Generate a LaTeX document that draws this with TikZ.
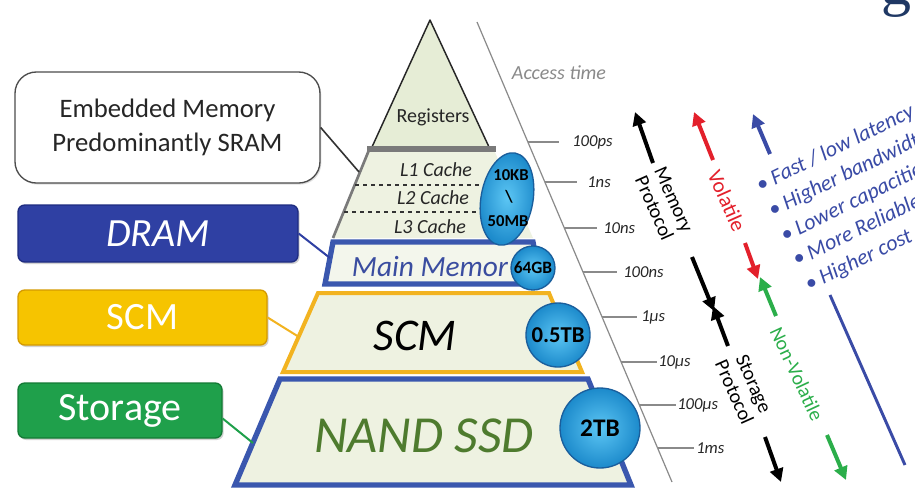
\documentclass[tikz,border=0pt]{standalone}
\usepackage{fontspec}
\setmainfont{Carlito}
\newfontfamily\titleserif{Liberation Serif}
\usetikzlibrary{arrows.meta,shapes.geometric,shadows,calc}

\definecolor{bandfill}{HTML}{EEF2E1}
\definecolor{regfill}{HTML}{E6EDD6}
\definecolor{mmfill}{HTML}{F3F6EC}
\definecolor{cachegray}{HTML}{7A7A7A}
\definecolor{pyblue}{HTML}{3A57AE}
\definecolor{pygold}{HTML}{F2B320}
\definecolor{dramblue}{HTML}{2F40A3}
\definecolor{dramborder}{HTML}{1E2C80}
\definecolor{scmgold}{HTML}{F6C400}
\definecolor{scmborder}{HTML}{D49A00}
\definecolor{storgreen}{HTML}{1FA04B}
\definecolor{storborder}{HTML}{137A35}
\definecolor{nandgreen}{HTML}{4E7B2E}
\definecolor{mmtext}{HTML}{3A4DA0}
\definecolor{axisgray}{HTML}{8A8A8A}
\definecolor{volred}{HTML}{E3202B}
\definecolor{nvgreen}{HTML}{2BAE4A}
\definecolor{listblue}{HTML}{3A4BA6}
\definecolor{balllight}{HTML}{5CC6F4}
\definecolor{balldark}{HTML}{1C8ACB}
\definecolor{ballborder}{HTML}{1A5E9C}
\definecolor{titlenavy}{HTML}{1F3864}

\tikzset{
  leftbox/.style={rounded corners=5pt, line width=1pt, text=white, align=center,
    drop shadow={shadow xshift=1.2pt, shadow yshift=-1.5pt, opacity=0.35}},
  ball/.style={circle, draw=ballborder, line width=1pt, inner color=balllight, outer color=balldark,
    font=\bfseries, text=black, inner sep=0pt},
  tickline/.style={axisgray, line width=0.9pt},
  ticklabel/.style={anchor=west, inner sep=0pt, font=\fontsize{12.5}{14}\selectfont\itshape, text=black!85},
  fatarrow/.style={line width=3pt, -{Triangle[length=10pt,width=10pt]}},
  rottext/.style={align=center, inner sep=0pt, font=\fontsize{15}{16}\selectfont}
}

\begin{document}
\begin{tikzpicture}[x=0.75pt,y=-0.75pt]
\useasboundingbox (0,0) rectangle (915,487);
\fill[white] (0,0) rectangle (915,487);

% cut-off title glyph
\node[anchor=base, inner sep=0pt, text=titlenavy, font=\titleserif\fontsize{45}{45}\selectfont] (titleg) at (896,4) {g};

% ---------------- pyramid ----------------
% registers
\draw[fill=regfill, draw=black!85, line width=1.1pt, line join=round] (430,20) -- (489,147) -- (372,147) -- cycle;
\node[font=\fontsize{15}{18}\selectfont, text=black!85] (reg) at (433,117) {Registers};

% cache band
\fill[bandfill] (369,150) -- (494,150) -- (533,238) -- (333,238) -- cycle;
\draw[cachegray, line width=2pt] (369,150) -- (333,238);
\draw[cachegray, line width=4pt] (367,149) -- (496,149);
\draw[black!80, dashed, line width=0.9pt] (355,185) -- (492,185);
\draw[black!80, dashed, line width=0.9pt] (344,212) -- (500,212);
\node[font=\fontsize{15}{18}\selectfont\itshape, text=black!85] (l1) at (436,170) {L1 Cache};
\node[font=\fontsize{15}{18}\selectfont\itshape, text=black!85] (l2) at (433,198) {L2 Cache};
\node[font=\fontsize{15}{18}\selectfont\itshape, text=black!85] (l3) at (430,227) {L3 Cache};

% main memory band
\draw[fill=mmfill, draw=pyblue, line width=4pt, line join=miter] (333,242) -- (533,242) -- (541,284) -- (325,284) -- cycle;
\node[font=\fontsize{22}{24}\selectfont\itshape, text=mmtext] (mm) at (430,267) {Main Memor};

% SCM band
\draw[fill=bandfill, draw=pygold, line width=3pt, line join=miter] (318,293) -- (549,293) -- (582,372) -- (283,372) -- cycle;
\node[font=\fontsize{34}{36}\selectfont\itshape, text=black] (scmt) at (415,336) {SCM};

% NAND band
\draw[fill=bandfill, draw=pyblue, line width=4pt, line join=miter] (280,379) -- (588,379) -- (631,485) -- (235,485) -- cycle;
\node[font=\fontsize{39}{40}\selectfont\itshape, text=nandgreen] (nand) at (424,436) {NAND SSD};

% capacity balls
\node[ellipse, draw=ballborder, line width=1pt, inner color=balllight, outer color=balldark,
      minimum width=39pt, minimum height=70pt, rotate=-10] (cacheball) at (507,199) {};
\node[font=\fontsize{12.5}{13}\selectfont\bfseries, text=black] (kb) at (511,175) {10KB};
\node[font=\fontsize{13}{13}\selectfont\bfseries, text=black] (sl) at (509,197) {\textbackslash};
\node[font=\fontsize{12.5}{13}\selectfont\bfseries, text=black] (mb) at (508,221) {50MB};
\node[ball, minimum size=33pt, font=\fontsize{13}{14}\selectfont\bfseries] (gb64) at (533,268) {64GB};
\node[ball, minimum size=48pt, font=\fontsize{17}{18}\selectfont\bfseries] (tb05) at (558,335) {0.5TB};
\node[ball, minimum size=60pt, font=\fontsize{19}{20}\selectfont\bfseries] (tb2) at (600,428) {2TB};

% connector end points on the pyramid
\coordinate (cacheL) at (359,172);
\coordinate (mmL) at (330,258);
\coordinate (scmL) at (299,337);
\coordinate (nandL) at (253,443);

% ---------------- left boxes ----------------
\node[rounded corners=16pt, draw=black!70, line width=1pt, fill=white, align=center,
      minimum width=228.75pt, minimum height=83.25pt, text=black!85,
      font=\fontsize{20}{26}\selectfont,
      drop shadow={shadow xshift=1pt, shadow yshift=-1.2pt, opacity=0.25}] (emb) at (167.5,127.5)
      {Embedded Memory\\Predominantly SRAM};
\node[leftbox, fill=dramblue, draw=dramborder, minimum width=210pt, minimum height=42.75pt,
      font=\fontsize{30}{32}\selectfont\itshape] (dram) at (158,233.5) {DRAM};
\node[leftbox, fill=scmgold, draw=scmborder, minimum width=186.75pt, minimum height=41.25pt,
      font=\fontsize{29}{30}\selectfont] (scmbox) at (142.5,317.5) {SCM};
\node[leftbox, fill=storgreen, draw=storborder, minimum width=153pt, minimum height=41.25pt,
      font=\fontsize{30}{31}\selectfont] (stor) at (120,410.5) {Storage};

\draw[black!80, line width=1.2pt] (emb.east) -- (cacheL);
\draw[dramblue, line width=1.5pt] (dram.east) -- (mmL);
\draw[pygold, line width=1.5pt] (scmbox.east) -- (scmL);
\draw[storgreen, line width=1.5pt] ([yshift=-6pt]stor.east) -- (nandL);

% ---------------- access time axis ----------------
\coordinate (axtop) at (477,22);
\coordinate (axbot) at (672,482);
\draw[axisgray, line width=0.9pt] (axtop) -- (axbot);
\node[font=\fontsize{15}{16}\selectfont\itshape, text=axisgray] (acc) at (559,73) {Access time};

\coordinate (t1) at (528,142);
\coordinate (t2) at (545,182);
\coordinate (t3) at (564,228);
\coordinate (t4) at (583,272);
\coordinate (t5) at (602,317);
\coordinate (t6) at (621,362);
\coordinate (t7) at (639,405);
\coordinate (t8) at (658,448);
\node[ticklabel] (l100ps) at (572,142) {100ps};
\node[ticklabel] (l1ns) at (587,182) {1ns};
\node[ticklabel] (l10ns) at (603,228) {10ns};
\node[ticklabel] (l100ns) at (623,272) {100ns};
\node[ticklabel] (l1us) at (641,317) {1µs};
\node[ticklabel] (l10us) at (658,362) {10µs};
\node[ticklabel] (l100us) at (677,405) {100µs};
\node[ticklabel] (l1ms) at (696,448) {1ms};
\draw[tickline] (t1) -- ++(31,0);
\draw[tickline] (t2) -- ++(32,0);
\draw[tickline] (t3) -- ++(33,0);
\draw[tickline] (t4) -- ++(34,0);
\draw[tickline] (t5) -- ++(35,0);
\draw[tickline] (t6) -- ++(36,0);
\draw[tickline] (t7) -- ++(37,0);
\draw[tickline] (t8) -- ++(36,0);

% ---------------- protocol arrows ----------------
\coordinate (mpA) at (653,163); \coordinate (mpB) at (635,112);
\coordinate (mdA) at (692,257); \coordinate (mdB) at (714,311);
\coordinate (suA) at (728,346); \coordinate (suB) at (713,306);
\coordinate (sdA) at (765,437); \coordinate (sdB) at (781,482);
\draw[fatarrow, black] (mpA) -- (mpB);
\draw[fatarrow, black] (mdA) -- (mdB);
\draw[fatarrow, black] (suA) -- (suB);
\draw[fatarrow, black] (sdA) -- (sdB);
\node[rottext, rotate=-66] (memprot) at (664,204) {Memory\\Protocol};
\node[rottext, rotate=-66] (storprot) at (744,388) {Storage\\Protocol};

\coordinate (vuA) at (713,160); \coordinate (vuB) at (694,112);
\coordinate (vdA) at (745,243); \coordinate (vdB) at (758,279);
\coordinate (nuA) at (776,316); \coordinate (nuB) at (760,277);
\coordinate (ndA) at (827,435); \coordinate (ndB) at (846,480);
\draw[fatarrow, volred] (vuA) -- (vuB);
\draw[fatarrow, volred] (vdA) -- (vdB);
\draw[fatarrow, nvgreen] (nuA) -- (nuB);
\draw[fatarrow, nvgreen] (ndA) -- (ndB);
\node[rottext, rotate=-66, text=volred, font=\fontsize{16}{17}\selectfont] (vol) at (727,201) {Volatile};
\node[rottext, rotate=-65, text=nvgreen] (nvol) at (797,374) {Non-Volatile};

\coordinate (buA) at (770,154); \coordinate (buB) at (753,114);
\coordinate (blA) at (830,295); \coordinate (blB) at (905,465);
\draw[fatarrow, listblue] (buA) -- (buB);
\draw[listblue, line width=2.2pt] (blA) -- (blB);
\node[rotate=26, anchor=west, align=left, inner sep=0pt, text=listblue,
      font=\fontsize{16.5}{20.8}\selectfont\itshape] (props) at (782,237)
      {\textbullet\ Fast / low latency\\
       \textbullet\ Higher bandwidth\\
       \textbullet\ Lower capacities\\
       \textbullet\ More Reliable\\
       \textbullet\ Higher cost};
\end{tikzpicture}
\end{document}
